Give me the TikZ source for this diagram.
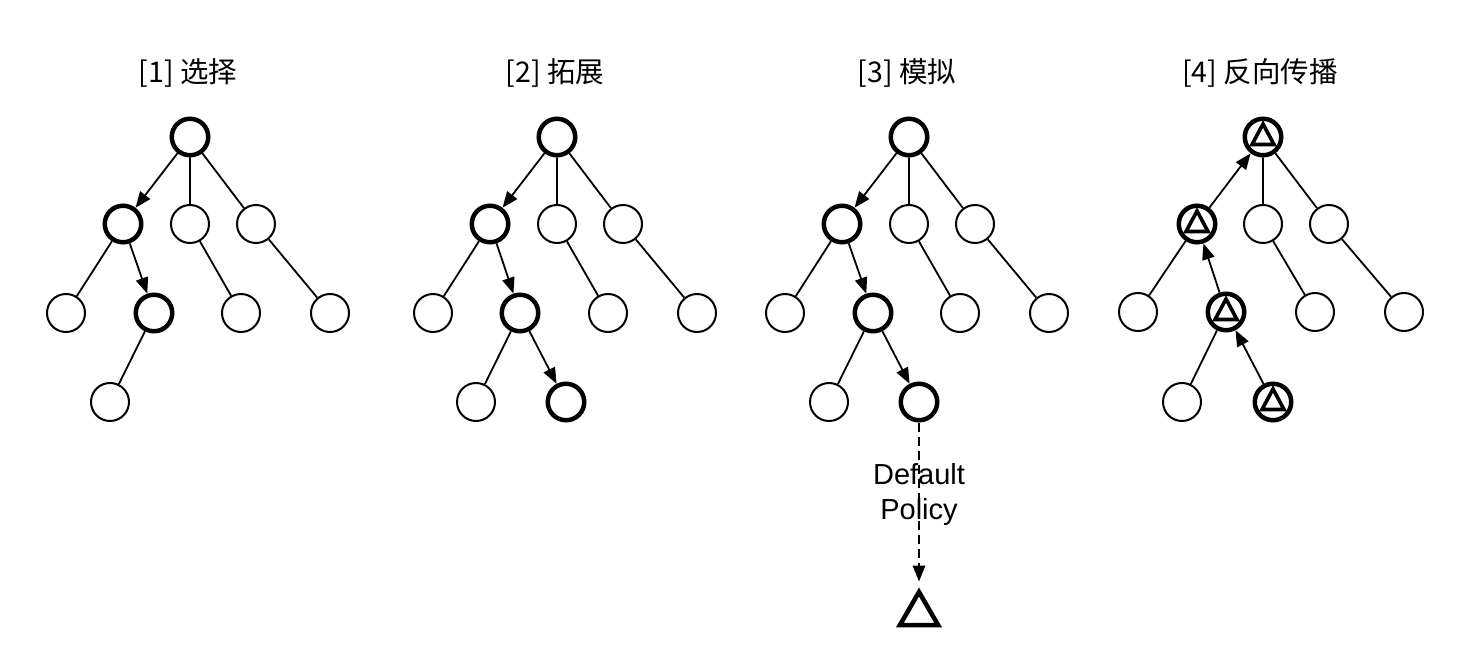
\documentclass[tikz,border=0pt]{standalone}
\usepackage{fontspec}
\setmainfont{Liberation Sans}
\newfontfamily\cjk{Noto Sans CJK SC}
\usetikzlibrary{arrows.meta,shapes.geometric}
\begin{document}
\begin{tikzpicture}[x=1pt,y=-1pt,
  nd/.style={circle,draw,line width=2pt,minimum size=38pt,inner sep=0pt,fill=white},
  bnd/.style={nd,line width=4.5pt,minimum size=36.5pt},
  rnd/.style={bnd,path picture={
     \draw[line width=3.6pt,line join=miter]
       ([shift={(0,-13)}]path picture bounding box.center) --
       ([shift={(11,7.5)}]path picture bounding box.center) --
       ([shift={(-11,7.5)}]path picture bounding box.center) -- cycle;}},
  edge/.style={line width=1.8pt},
  arr/.style={edge,-{Triangle[length=16pt,width=12.5pt]}},
  ttl/.style={font=\cjk\fontsize{28.5}{34}\selectfont,inner sep=0pt},
  lbl/.style={font=\fontsize{29}{35}\selectfont,align=center,inner sep=0pt}
]
\useasboundingbox (0,0) rectangle (1465,655);

% Panel 1
\node[ttl] (t1) at (188,73) {[1] 选择};
\begin{scope}[shift={(190,137)}]
\node[bnd] (Ar) at (0,0) {};
\node[bnd] (Aa) at (-67,87) {};
\node[nd] (Ab) at (0,87) {};
\node[nd] (Ac) at (66,87) {};
\node[nd] (Ad) at (-124,176) {};
\node[bnd] (Ae) at (-36,176) {};
\node[nd] (Af) at (51,176) {};
\node[nd] (Ag) at (140,176) {};
\node[nd] (Ah) at (-80,265) {};
\end{scope}
\draw[edge] (Ar)--(Ab) (Ar)--(Ac) (Aa)--(Ad) (Ab)--(Af) (Ac)--(Ag) (Ae)--(Ah);
\draw[arr] (Ar)--(Aa);
\draw[arr] (Aa)--(Ae);

% Panel 2
\node[ttl] (t2) at (555,73) {[2] 拓展};
\begin{scope}[shift={(557,137)}]
\node[bnd] (Br) at (0,0) {};
\node[bnd] (Ba) at (-67,87) {};
\node[nd] (Bb) at (0,87) {};
\node[nd] (Bc) at (66,87) {};
\node[nd] (Bd) at (-124,176) {};
\node[bnd] (Be) at (-37,176) {};
\node[nd] (Bf) at (51,176) {};
\node[nd] (Bg) at (140,176) {};
\node[nd] (Bh) at (-81,265) {};
\node[bnd] (Bi) at (9,265) {};
\end{scope}
\draw[edge] (Br)--(Bb) (Br)--(Bc) (Ba)--(Bd) (Bb)--(Bf) (Bc)--(Bg) (Be)--(Bh);
\draw[arr] (Br)--(Ba);
\draw[arr] (Ba)--(Be);
\draw[arr] (Be)--(Bi);

% Panel 3
\node[ttl] (t3) at (907,73) {[3] 模拟};
\begin{scope}[shift={(909,137)}]
\node[bnd] (Cr) at (0,0) {};
\node[bnd] (Ca) at (-67,87) {};
\node[nd] (Cb) at (0,87) {};
\node[nd] (Cc) at (66,87) {};
\node[nd] (Cd) at (-124,176) {};
\node[bnd] (Ce) at (-36,176) {};
\node[nd] (Cf) at (51,176) {};
\node[nd] (Cg) at (140,176) {};
\node[nd] (Ch) at (-80,265) {};
\node[bnd] (Ci) at (10,265) {};
\end{scope}
\draw[edge] (Cr)--(Cb) (Cr)--(Cc) (Ca)--(Cd) (Cb)--(Cf) (Cc)--(Cg) (Ce)--(Ch);
\draw[arr] (Cr)--(Ca);
\draw[arr] (Ca)--(Ce);
\draw[arr] (Ce)--(Ci);
\node[regular polygon,regular polygon sides=3,draw,line width=4.5pt,minimum size=44pt,inner sep=0pt] (tri) at (919,614) {};
\draw[arr,dash pattern=on 9pt off 5pt,shorten >=6pt] (Ci)--(tri);
\node[lbl] (dp) at (919,494) {Default\\Policy};

% Panel 4
\node[ttl] (t4) at (1260,73) {[4] 反向传播};
\begin{scope}[shift={(1263,137)}]
\node[rnd] (Dr) at (0,0) {};
\node[rnd] (Da) at (-66,87) {};
\node[nd] (Db) at (0,87) {};
\node[nd] (Dc) at (66,87) {};
\node[nd] (Dd) at (-125,175) {};
\node[rnd] (De) at (-37,175) {};
\node[nd] (Df) at (52,175) {};
\node[nd] (Dg) at (141,175) {};
\node[nd] (Dh) at (-81,265) {};
\node[rnd] (Di) at (10,265) {};
\end{scope}
\draw[edge] (Dr)--(Db) (Dr)--(Dc) (Da)--(Dd) (Db)--(Df) (Dc)--(Dg) (De)--(Dh);
\draw[arr] (Di)--(De);
\draw[arr] (De)--(Da);
\draw[arr] (Da)--(Dr);
\end{tikzpicture}
\end{document}
